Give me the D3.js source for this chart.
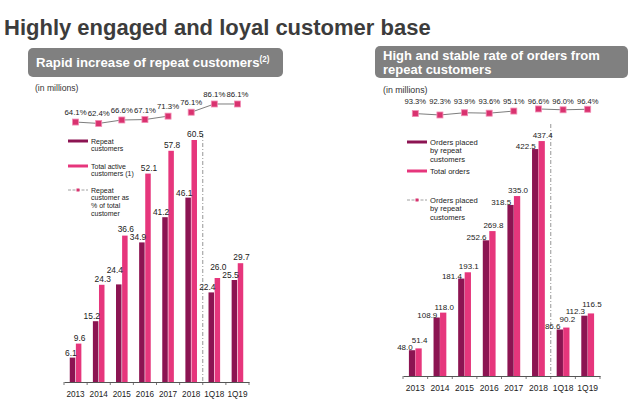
<!DOCTYPE html>
<html><head><meta charset="utf-8">
<script src="https://cdn.jsdelivr.net/npm/d3@7"></script>
<style>html,body{margin:0;padding:0;background:#fff;}svg{display:block;font-family:"Liberation Sans",Arial,sans-serif;}</style>
</head><body><svg id="c" width="640" height="399"></svg>
<script>
const categories = ["2013","2014","2015","2016","2017","2018","1Q18","1Q19"];
const repeatCustomers = [6.1,15.2,24.4,34.9,41.2,46.1,22.4,25.5];
const totalCustomers = [9.6,24.3,36.6,52.1,57.8,60.5,26.0,29.7];
const repeatCustomerPct = [64.1,62.4,66.6,67.1,71.3,76.1,86.1,86.1];
const repeatOrders = [48.0,108.9,181.4,252.6,318.5,422.5,86.6,112.3];
const totalOrders = [51.4,118.0,193.1,269.8,335.0,437.4,90.2,116.5];
const repeatOrderPct = [93.3,92.3,93.9,93.6,95.1,96.6,96.0,96.4];
const lineGroups = [[0,4],[5,7]];

const DARK = "#8c1452", PINK = "#e6367c", MARK = "#d9326f", MARKS = "#f28cb4";
const svg = d3.select("#c");
svg.append("rect").attr("width",640).attr("height",399).attr("fill","#fff");

svg.append("text").attr("x",4).attr("y",35).attr("font-size",22).attr("font-weight","bold")
  .attr("fill","#3c3c3c").text("Highly engaged and loyal customer base");

function header(x,y,w,h,lines,fs){
  svg.append("rect").attr("x",x).attr("y",y).attr("width",w).attr("height",h).attr("rx",5).attr("fill","#808080");
  lines.forEach((l,i)=>{
    const t = svg.append("text").attr("x",x+8).attr("y",l.y).attr("font-size",fs).attr("font-weight","bold").attr("fill","#fff");
    t.append("tspan").text(l.t);
    if(l.sup) t.append("tspan").attr("font-size",fs*0.62).attr("dy",-5).text(l.sup);
  });
}
header(28,48,255,29,[{t:"Rapid increase of repeat customers",sup:"(2)",y:67}],13.2);
header(375,46,253,32,[{t:"High and stable rate of orders from",y:60},{t:"repeat customers",y:74}],13);

svg.append("text").attr("x",35).attr("y",91).attr("font-size",8.6).attr("fill","#333").text("(in millions)");
svg.append("text").attr("x",383).attr("y",93).attr("font-size",8.8).attr("fill","#333").text("(in millions)");

function panel(o){
  const x = d3.scaleBand().domain(categories).range(o.xr).padding(0);
  const y = d3.scaleLinear().domain(o.yd).range(o.yr);
  const py = d3.scaleLinear().domain(o.pd).range(o.pr);
  const g = svg.append("g");
  const cx = c => x(c) + x.bandwidth()/2;
  g.append("line").attr("x1",x(categories[6])).attr("x2",x(categories[6]))
    .attr("y1",o.sepTop).attr("y2",o.yr[0]).attr("stroke","#8a8a8a").attr("stroke-width",0.9)
    .attr("stroke-dasharray","4,2,1,2");
  g.selectAll(".d").data(o.rep).join("rect")
    .attr("x",(d,i)=>cx(categories[i]) - o.bw - o.gap/2).attr("width",o.bw)
    .attr("y",d=>y(d)).attr("height",d=>y(0)-y(d)).attr("fill",DARK);
  g.selectAll(".p").data(o.tot).join("rect")
    .attr("x",(d,i)=>cx(categories[i]) + o.gap/2).attr("width",o.bw)
    .attr("y",d=>y(d)).attr("height",d=>y(0)-y(d)).attr("fill",PINK);
  const dl = g.selectAll(".dl").data(o.rep).join("text")
    .attr("x",(d,i)=>cx(categories[i]) - o.gap/2 + o.dShift).attr("y",d=>y(d)-o.dUp)
    .attr("text-anchor","end").attr("font-size",o.lfs).attr("fill","#222").text(d=>d.toFixed(1));
  const pl = g.selectAll(".pl").data(o.tot).join("text")
    .attr("x",(d,i)=>cx(categories[i]) + o.gap/2 + o.bw/2 + o.pShift).attr("y",d=>y(d)-o.pUp)
    .attr("text-anchor","middle").attr("font-size",o.lfs).attr("fill","#222").text(d=>d.toFixed(1));
  const labs = [];
  dl.each(function(d){labs.push({v:d, el:this});});
  pl.each(function(d){labs.push({v:d, el:this});});
  labs.sort((a,b)=>a.v-b.v);
  const placed = [];
  labs.forEach(L=>{
    let moved = true, guard = 0;
    while(moved && guard++ < 10){
      moved = false;
      const b = L.el.getBBox();
      for(const P of placed){
        const q = P.el.getBBox();
        if(b.x < q.x+q.width-0.5 && q.x < b.x+b.width-0.5 && b.y < q.y+q.height-1 && q.y < b.y+b.height-1){
          const cur = +L.el.getAttribute("y");
          L.el.setAttribute("y", cur - (b.y + b.height - q.y) + 1.5);
          moved = true; break;
        }
      }
    }
    placed.push(L);
  });
  const ax = g.append("g").attr("transform",`translate(0,${o.yr[0]})`)
    .call(d3.axisBottom(x).tickSize(0).tickPadding(o.tp).tickSizeOuter(0));
  ax.select(".domain").attr("stroke","#555").attr("stroke-width",1);
  ax.selectAll("text").attr("font-size",o.afs).attr("fill","#222").attr("font-family","Liberation Sans, Arial, sans-serif");
  const bounds = categories.map(c=>x(c)).concat([x(categories[7])+x.bandwidth()]);
  g.selectAll(".tk").data(bounds).join("line").attr("x1",d=>d).attr("x2",d=>d)
    .attr("y1",o.yr[0]).attr("y2",o.yr[0]+3).attr("stroke","#555").attr("stroke-width",0.8);
  const line = d3.line().x(d=>cx(categories[d])).y(d=>py(o.pct[d]));
  lineGroups.forEach(gr=>{
    g.append("path").attr("d",line(d3.range(gr[0],gr[1]+1))).attr("fill","none").attr("stroke","#6e6e6e").attr("stroke-width",0.9);
  });
  g.selectAll(".mk").data(o.pct).join("rect")
    .attr("x",(d,i)=>cx(categories[i])-3).attr("y",d=>py(d)-3).attr("width",6).attr("height",6)
    .attr("fill",MARK).attr("stroke",MARKS).attr("stroke-width",0.8);
  g.selectAll(".ml").data(o.pct).join("text")
    .attr("x",(d,i)=>cx(categories[i])).attr("y",d=>o.pctLabelY==null? py(d)-o.pctUp : o.pctLabelY)
    .attr("text-anchor","middle").attr("font-size",o.pfs).attr("fill","#222").text(d=>d.toFixed(1)+"%");
  const lg = svg.append("g");
  o.legend.forEach(it=>{
    if(it.type==="bar"){
      lg.append("line").attr("x1",o.lx).attr("x2",o.lx+20).attr("y1",it.y).attr("y2",it.y)
        .attr("stroke",it.color).attr("stroke-width",3);
    } else {
      lg.append("line").attr("x1",o.lx).attr("x2",o.lx+20).attr("y1",it.y).attr("y2",it.y)
        .attr("stroke","#888").attr("stroke-width",0.8).attr("stroke-dasharray","3,1.5");
      lg.append("rect").attr("x",o.lx+8.5).attr("y",it.y-1.5).attr("width",3).attr("height",3).attr("fill",MARK);
    }
    it.lines.forEach((t,k)=>{
      lg.append("text").attr("x",o.lx+23).attr("y",it.y+2.5+k*o.lls).attr("font-size",o.lfs2).attr("fill","#222").text(t);
    });
  });
}

panel({xr:[64,249], yd:[0,70], yr:[382,102], pd:[60,90], pr:[125.4,100.8],
  rep:repeatCustomers, tot:totalCustomers, pct:repeatCustomerPct,
  bw:5.5, gap:0.6, dShift:1.5, pShift:1, dUp:2, pUp:3, lfs:8.4, afs:8.2, tp:9,
  sepTop:134, pctUp:7, pctLabelY:null, pfs:7.8,
  lx:68, lfs2:7, lls:7.8,
  legend:[{type:"bar",color:DARK,y:141,lines:["Repeat","customers"]},
          {type:"bar",color:PINK,y:166,lines:["Total active","customers (1)"]},
          {type:"line",y:190,lines:["Repeat","customer as","% of total","customer"]}]});

panel({xr:[403,600], yd:[0,450], yr:[376,134.3], pd:[90,100], pr:[118.2,104.2],
  rep:repeatOrders, tot:totalOrders, pct:repeatOrderPct,
  bw:6.3, gap:0.2, dShift:-2.5, pShift:1, dUp:0, pUp:3, lfs:8, afs:8.5, tp:9,
  sepTop:124, pctUp:7, pctLabelY:104, pfs:7.6,
  lx:407, lfs2:7.6, lls:8.6,
  legend:[{type:"bar",color:DARK,y:142,lines:["Orders placed","by repeat","customers"]},
          {type:"bar",color:PINK,y:171,lines:["Total orders"]},
          {type:"line",y:200,lines:["Orders placed","by repeat","customers"]}]});
</script></body></html>
